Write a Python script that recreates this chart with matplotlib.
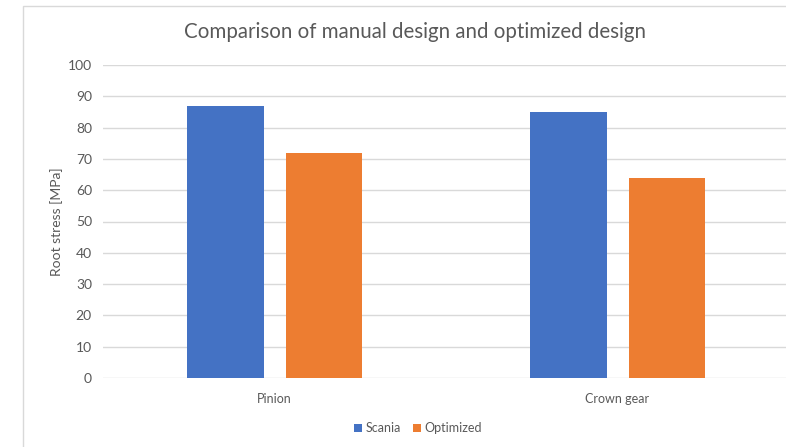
import matplotlib
matplotlib.use("Agg")
import matplotlib.pyplot as plt
from matplotlib.patches import Rectangle
import numpy as np

categories = ["Pinion", "Crown gear"]
scania = [87, 85]
optimized = [72, 64]
series_names = ["Scania", "Optimized"]
yticks = [0, 10, 20, 30, 40, 50, 60, 70, 80, 90, 100]

plt.rcParams['font.family'] = ['Lato', 'DejaVu Sans']
W, H = 786, 447
fig = plt.figure(figsize=(W/100, H/100), dpi=100)
fig.patch.set_facecolor('white')

# chart frame
fig.add_artist(Rectangle((23/W, -0.05), 1.2, 1 - 5.5/H + 0.05, transform=fig.transFigure,
                         fill=False, edgecolor='#d9d9d9', lw=1.0))

ax = fig.add_axes([103/W, 1 - 378/H, (789 - 103)/W, (378 - 65)/H])
x = np.arange(len(categories))
bw = 0.222
gap = 22/343
ax.bar(x - (bw + gap)/2, scania, bw, color='#4472c4', label=series_names[0], zorder=3)
ax.bar(x + (bw + gap)/2, optimized, bw, color='#ed7d31', label=series_names[1], zorder=3)

ax.set_xlim(-0.5, 1.5)
ax.set_ylim(0, 100)
ax.set_yticks(yticks)
ax.yaxis.grid(True, color='#d9d9d9', lw=1.0, zorder=0)
for s in ax.spines.values():
    s.set_visible(False)
ax.tick_params(axis='both', length=0, colors='#595959', labelsize=9)
ax.tick_params(axis='y', pad=8, labelsize=10)
ax.tick_params(axis='x', pad=11)
ax.set_xticks(x)
ax.set_xticklabels(categories)
ax.set_ylabel("Root stress [MPa]", color='#595959', fontsize=10, labelpad=3.5)

fig.text(415/W, 1 - 32/H, "Comparison of manual design and optimized design",
         ha='center', va='center', fontsize=14.8, color='#595959')

leg = fig.legend(loc='center', bbox_to_anchor=(418/W, 1 - 428/H), ncol=2, frameon=False,
                 fontsize=9, handlelength=0.6, handleheight=0.6, handletextpad=0.3,
                 columnspacing=1.0, labelcolor='#595959')

fig.savefig("out.png", dpi=100)
